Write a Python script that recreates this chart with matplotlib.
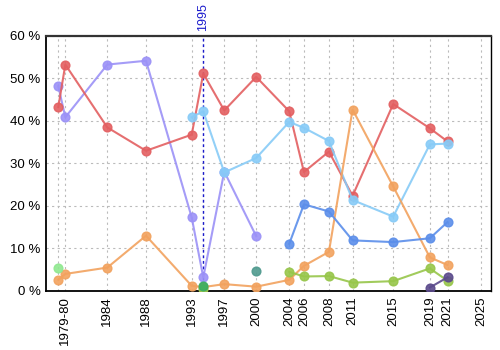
import matplotlib
matplotlib.use('Agg')
import matplotlib.pyplot as plt
import numpy as np

plt.rcParams['font.family'] = ['Liberation Sans', 'DejaVu Sans']

nan = np.nan

# election dates (fractional years) and their tick labels
dates = [1979.33, 1980.09, 1984.63, 1988.81, 1993.75, 1995.0, 1997.27, 2000.72,
         2004.29, 2005.88, 2008.58, 2011.14, 2015.53, 2019.49, 2021.40]
tick_pos = dates + [2025.0]
tick_labels = ['', '1979-80', '1984', '1988', '1993', '', '1997', '2000',
               '2004', '2006', '2008', '2011', '2015', '2019', '2021', '2025']

purple = [48.1, 40.8, 53.2, 54.1, 17.2, 3.1, 28.0, 12.8,
          nan, nan, nan, nan, nan, nan, nan]
red = [43.2, 53.2, 38.4, 32.9, 36.7, 51.1, 42.4, 50.3,
       42.2, 27.9, 32.7, 22.3, 43.9, 38.2, 35.1]
lightblue = [nan, nan, nan, nan, 40.8, 42.2, 27.8, 31.2,
             39.7, 38.3, 35.2, 21.3, 17.4, 34.4, 34.6]
orange = [2.5, 3.9, 5.4, 12.9, 1.1, 0.8, 1.5, 0.9,
          2.5, 5.8, 9.1, 42.6, 24.5, 7.8, 6.0]
blue = [nan, nan, nan, nan, nan, nan, nan, nan,
        11.0, 20.3, 18.6, 11.8, 11.4, 12.3, 16.1]
yellowgreen = [nan, nan, nan, nan, nan, 0.3, nan, nan,
               4.4, 3.3, 3.4, 1.85, 2.2, 5.2, 2.3]
lightgreen = [5.4] + [nan] * 14
darkgreen = [nan] * 5 + [1.1] + [nan] * 9
teal = [nan] * 7 + [4.5] + [nan] * 7
darkpurple = [nan] * 13 + [0.7, 3.1]

series = [
    (purple, '#9b91f7'),
    (red, '#e35f61'),
    (lightblue, '#87cbf7'),
    (orange, '#f2a25e'),
    (blue, '#5b8eea'),
    (yellowgreen, '#97c64a'),
    (lightgreen, '#8fe88f'),
    (darkgreen, '#3aae63'),
    (teal, '#4f9a8e'),
    (darkpurple, '#5b4a8c'),
]

fig = plt.figure(figsize=(5, 3.5), dpi=100)
ax = fig.add_axes([0.092, 0.17, 0.89, 0.728])

ax.axvline(1995.0, color='#1a1acc', linestyle=(0, (2, 2)), linewidth=1, zorder=1)
ax.text(1995.0, 61.2, '1995', rotation=90, color='#1a1acc', fontsize=9,
        ha='center', va='bottom')

for vals, col in series:
    ax.plot(dates, vals, '-o', color=col, linewidth=1.5, markersize=6.3,
            alpha=0.9, zorder=3)

ax.set_xlim(1978.0, 2026.1)
ax.set_ylim(0, 60)
ax.set_xticks(tick_pos)
ax.set_xticklabels(tick_labels, rotation=90, fontsize=9.5)
ax.set_yticks([0, 10, 20, 30, 40, 50, 60])
ax.set_yticklabels(['0 %', '10 %', '20 %', '30 %', '40 %', '50 %', '60 %'], fontsize=9.5)
ax.tick_params(length=0, pad=4)
ax.grid(True, color='#bbbbbb', linestyle=(0, (2, 3)), linewidth=0.8, zorder=0)
ax.set_axisbelow(True)

for s in ['left', 'bottom']:
    ax.spines[s].set_linewidth(1.3)
ax.spines['top'].set_color('#333333')
ax.spines['top'].set_linewidth(1.6)
ax.spines['right'].set_linewidth(1.0)

fig.savefig('out.png', dpi=100)
